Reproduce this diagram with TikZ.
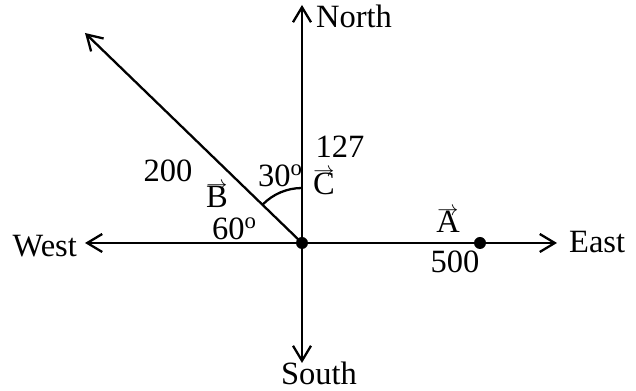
\documentclass[tikz,border=0pt]{standalone}
\usepackage{fontspec}
\setmainfont{Liberation Serif}
\usetikzlibrary{arrows.meta}
% letter with a small arrow above it
\newcommand{\arrowletter}[1]{\leavevmode\vbox{\offinterlineskip
    \halign{\hfil##\hfil\cr$\scriptstyle\rightarrow$\cr\noalign{\kern-2pt}#1\cr}}}
\begin{document}
\begin{tikzpicture}[x=0.02cm, y=0.02cm, line width=1.3pt,
    >={Straight Barb[length=3mm,width=3.6mm]},
    lbl/.style={inner sep=0pt, font=\fontsize{18.5}{21}\selectfont}]
    \useasboundingbox (-302,-148) rectangle (334,243);

    % Points
    \coordinate (O) at (0,0);
    \coordinate (N) at (0,238);
    \coordinate (S) at (0,-120);
    \coordinate (W) at (-217,0);
    \coordinate (E) at (255,0);
    \coordinate (Btip) at (-217,210);
    \coordinate (Adot) at (178,0);

    % Axes
    \draw[->] (O) -- (N);
    \draw[->] (O) -- (S);
    \draw[->] (O) -- (W);
    \draw[->] (O) -- (E);

    % Vector B
    \draw[->] (O) -- (Btip);

    % Angle arc
    \draw (0,55) arc[start angle=90, end angle=135.9, radius=55];

    % Dots
    \fill (O) circle[radius=6];
    \fill (Adot) circle[radius=6];

    % Directions
    \node[lbl, anchor=base west] (north) at (13,215) {North};
    \node[lbl, anchor=base] (south) at (17,-142) {South};
    \node[lbl, anchor=base east] (west) at (-224,-14) {West};
    \node[lbl, anchor=base west] (east) at (266,-10) {East};

    % Labels
    \node[lbl, anchor=base] (vecA) at (146,10) {\arrowletter{A}};
    \node[lbl, anchor=base] (magA) at (153,-30) {500};
    \node[lbl, anchor=base] (magC) at (38,85) {127};
    \node[lbl, anchor=base] (vecC) at (22,48) {\arrowletter{C}};
    \node[lbl, anchor=base west] (angC) at (-45,56) {30\textsuperscript{o}};
    \node[lbl, anchor=base] (magB) at (-134,61) {200};
    \node[lbl, anchor=base] (vecB) at (-85,35) {\arrowletter{B}};
    \node[lbl, anchor=base west] (angW) at (-91,3) {60\textsuperscript{o}};
\end{tikzpicture}
\end{document}
